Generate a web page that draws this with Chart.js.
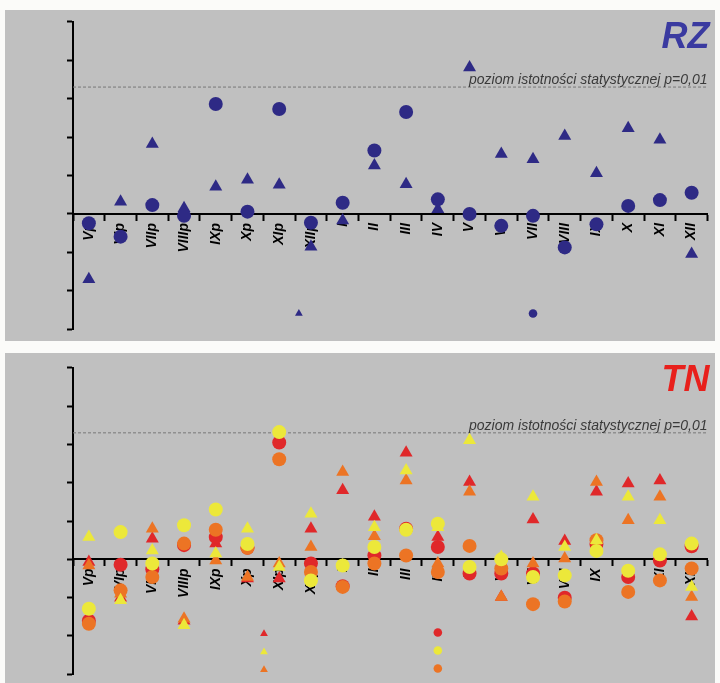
<!DOCTYPE html>
<html>
<head>
<meta charset="utf-8">
<script src="https://cdn.jsdelivr.net/npm/chart.js@4"></script>
<style>
  body { margin: 0; background: #fbfbf9; }
  .panel { position: absolute; left: 5px; width: 710px; background: #c0c0c0; }
  #p1 { top: 10px; height: 331px; }
  #p2 { top: 353px; height: 330px; }
  canvas { display: block; }
</style>
</head>
<body>
<div class="panel" id="p1"><canvas id="rz" width="710" height="331"></canvas></div>
<div class="panel" id="p2"><canvas id="tn" width="710" height="330"></canvas></div>
<script>
var months = ['Vp','VIp','VIIp','VIIIp','IXp','Xp','XIp','XIIp','I','II','III','IV','V','VI','VII','VIII','IX','X','XI','XII'];
var yTicks = [-0.3, 0.5, 0.1];   // min, max, step
var level = 0.33;
var levelText = 'poziom istotności statystycznej p=0,01';

// RZ
var rzCircle   = [-0.024,-0.059,0.023,-0.005,0.286,0.006,0.273,-0.023,0.029,0.165,0.265,0.038,0.000,-0.031,-0.005,-0.087,-0.027,0.021,0.036,0.055];
var rzTriangle = [-0.170,0.032,0.182,0.015,0.071,0.089,0.076,-0.085,-0.017,0.126,0.077,0.012,0.381,0.156,0.142,0.203,0.106,0.223,0.193,-0.104];
// values beyond the scale, shown as small marks
var rzOutTriX = [6.62], rzOutTriY = [-0.259];
var rzOutCirX = [14],   rzOutCirY = [-0.259];

// TN
var tnRedCircle    = [-0.160,-0.014,-0.026,0.037,0.058,0.030,0.305,-0.011,-0.070,0.010,0.080,0.032,-0.037,-0.037,-0.037,-0.100,0.040,-0.046,-0.003,0.034];
var tnYellowCircle = [-0.129,0.071,-0.011,0.089,0.130,0.040,0.332,-0.055,-0.016,0.032,0.077,0.093,-0.020,0.000,-0.046,-0.042,0.022,-0.030,0.013,0.041];
var tnOrangeCircle = [-0.168,-0.081,-0.046,0.041,0.077,0.030,0.261,-0.033,-0.072,-0.011,0.010,-0.033,0.035,-0.024,-0.117,-0.110,0.050,-0.085,-0.055,-0.024];
var tnRedTri    = [-0.007,-0.100,0.054,-0.160,0.041,-0.050,-0.050,0.080,0.180,0.111,0.278,0.058,0.202,-0.098,0.104,0.048,0.176,0.198,0.206,-0.149];
var tnYellowTri = [0.058,-0.107,0.023,-0.172,0.015,0.080,-0.020,0.119,-0.016,0.084,0.232,0.084,0.311,0.006,0.163,0.032,0.050,0.163,0.102,-0.072];
var tnOrangeTri = [-0.016,-0.090,0.080,-0.155,-0.003,-0.046,-0.011,0.032,0.228,0.060,0.206,-0.011,0.176,-0.098,-0.011,0.002,0.202,0.102,0.163,-0.098];
var tnOutTriX = [5.52,5.52,5.52], tnOutTriY = [-0.194,-0.242,-0.288];
var tnOutCirX = [11,11,11],       tnOutCirY = [-0.191,-0.238,-0.285];

var navy = '#2e2a85', red = '#e0282a', yellow = '#ece83a', orange = '#ec7424';
var labelFont = '"Liberation Sans", Arial, sans-serif';

function marks(values, shape, color, size) {
	return {
		data: values,
		xAxisID: 'x',
		showLine: false,
		pointStyle: shape,
		pointRadius: size,
		pointBackgroundColor: color,
		pointBorderColor: color,
		pointBorderWidth: 0,
		clip: false
	};
}

function outside(xs, ys, shape, colors, size) {
	var pts = [];
	for (var i = 0; i < xs.length; ++i) pts.push({x: xs[i], y: ys[i]});
	return {
		data: pts,
		xAxisID: 'xo',
		showLine: false,
		pointStyle: shape,
		pointRadius: size,
		pointBackgroundColor: colors,
		pointBorderColor: colors,
		pointBorderWidth: 0,
		clip: false
	};
}

function levelLine() {
	return {
		data: [{x: -0.5, y: level}, {x: 19.5, y: level}],
		xAxisID: 'xo',
		borderColor: '#787878',
		borderWidth: 1,
		borderDash: [3, 2],
		pointRadius: 0,
		clip: false
	};
}

// Title and the label of the significance line.
var notes = {
	id: 'notes',
	afterDraw: function(chart) {
		var ctx = chart.ctx, area = chart.chartArea, o = chart.options.plugins.notes;
		var ly = chart.scales.y.getPixelForValue(level);
		ctx.save();
		ctx.textAlign = 'right';
		ctx.textBaseline = 'alphabetic';
		ctx.font = 'italic 14px ' + labelFont;
		ctx.fillStyle = '#3a3a3a';
		ctx.fillText(levelText, area.right, ly - 3);
		ctx.font = 'italic bold 36px ' + labelFont;
		ctx.fillStyle = o.color;
		ctx.fillText(o.title, area.right + 2, o.titleY);
		ctx.restore();
	}
};

function panel(id, title, color, datasets, padTop, padBottom) {
	return new Chart(document.getElementById(id), {
		type: 'line',
		data: { labels: months, datasets: datasets },
		plugins: [notes],
		options: {
			responsive: false,
			animation: false,
			events: [],
			layout: { padding: { left: 62, right: 7, top: padTop, bottom: padBottom } },
			plugins: {
				legend: { display: false },
				tooltip: { enabled: false },
				notes: { title: title, color: color, titleY: 38 }
			},
			scales: {
				x: {
					type: 'category',
					position: { y: 0 },
					offset: true,
					grid: { offset: true, drawOnChartArea: false, tickLength: 6, tickWidth: 2, tickColor: '#000' },
					border: { display: true, color: '#000', width: 2 },
					ticks: { display: false }
				},
				xl: {
					type: 'category',
					position: { y: 0 },
					offset: true,
					z: 1,
					grid: { offset: true, drawOnChartArea: false, tickLength: 6, tickColor: 'rgba(0,0,0,0)' },
					border: { display: false },
					ticks: {
						autoSkip: false,
						minRotation: 90,
						maxRotation: 90,
						padding: 3,
						color: '#000',
						font: { family: labelFont, size: 14, weight: 'bold', style: 'italic' }
					}
				},
				xo: { type: 'linear', min: -0.5, max: 19.5, display: false },
				y: {
					type: 'linear',
					position: 'left',
					min: yTicks[0],
					max: yTicks[1],
					ticks: { stepSize: yTicks[2], display: false },
					grid: { drawOnChartArea: false, tickLength: 6, tickWidth: 2, tickColor: '#000' },
					border: { color: '#000', width: 2 },
					afterFit: function(s) { s.width = 6; }
				}
			}
		}
	});
}

panel('rz', 'RZ', '#3a3aa0', [
	marks(rzCircle, 'circle', navy, 7),
	marks(rzTriangle, 'triangle', navy, 7.5),
	outside(rzOutTriX, rzOutTriY, 'triangle', navy, 4.5),
	outside(rzOutCirX, rzOutCirY, 'circle', navy, 4.3),
	levelLine()
], 11.7, 11.7);

// first in the list is drawn on top
panel('tn', 'TN', '#e8201c', [
	marks(tnYellowCircle, 'circle', yellow, 7),
	marks(tnYellowTri, 'triangle', yellow, 7.5),
	marks(tnOrangeCircle, 'circle', orange, 7),
	marks(tnOrangeTri, 'triangle', orange, 7.5),
	marks(tnRedCircle, 'circle', red, 7),
	marks(tnRedTri, 'triangle', red, 7.5),
	outside(tnOutTriX, tnOutTriY, 'triangle', [red, yellow, orange], 4.5),
	outside(tnOutCirX, tnOutCirY, 'circle', [red, yellow, orange], 4.3),
	levelLine()
], 14.7, 8.7);
</script>
</body>
</html>
